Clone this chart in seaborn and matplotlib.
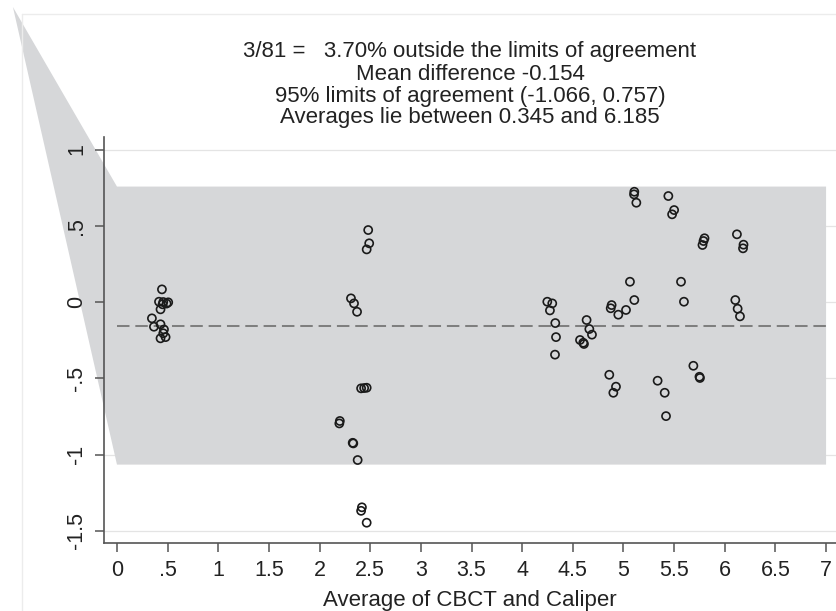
import matplotlib
matplotlib.use('Agg')
import matplotlib.pyplot as plt
import seaborn as sns
import pandas as pd
import numpy as np
from matplotlib.patches import Polygon
from matplotlib.lines import Line2D

# moyennes (CBCT + Caliper)/2 et differences
average = [0.444, 0.415, 0.457, 0.506, 0.45, 0.43, 0.49, 0.345, 0.365, 0.43,
           0.464, 0.457, 0.43, 0.48,
           2.48, 2.49, 2.465, 2.31, 2.34, 2.37, 2.41, 2.44, 2.465, 2.20,
           2.195, 2.327, 2.333, 2.376, 2.418, 2.41, 2.465,
           4.248, 4.297, 4.274, 4.327, 4.334, 4.324,
           4.636, 4.663, 4.689, 4.571, 4.61, 4.603,
           5.107, 5.104, 5.127, 5.443, 5.50, 5.48, 5.80, 5.79, 5.78,
           6.12, 6.185, 6.18, 5.064, 5.107,
           4.883, 4.874, 4.949, 5.025, 5.568, 5.597,
           6.104, 6.127, 6.15, 4.86, 4.926, 4.9,
           5.337, 5.407, 5.69, 5.75, 5.755, 5.42]
difference = [0.083, 0.002, 0.0, -0.002, -0.015, -0.048, -0.01, -0.107, -0.162, -0.146,
              -0.18, -0.205, -0.238, -0.23,
              0.472, 0.385, 0.345, 0.024, -0.009, -0.064, -0.566, -0.564, -0.562, -0.78,
              -0.796, -0.923, -0.927, -1.036, -1.346, -1.369, -1.447,
              0.002, -0.009, -0.055, -0.138, -0.23, -0.345,
              -0.118, -0.177, -0.214, -0.249, -0.275, -0.267,
              0.723, 0.706, 0.651, 0.695, 0.603, 0.575, 0.418, 0.40, 0.374,
              0.444, 0.376, 0.352, 0.133, 0.013,
              -0.02, -0.041, -0.083, -0.052, 0.133, 0.002,
              0.013, -0.044, -0.094, -0.477, -0.555, -0.595,
              -0.516, -0.595, -0.418, -0.49, -0.498, -0.748]

mean_diff = -0.154
loa_low = -1.066
loa_high = 0.757
band_x = [0, 7]
wedge_corner = (-1.027, 1.934)

title_lines = ["3/81 =   3.70% outside the limits of agreement",
               "Mean difference -0.154",
               "95% limits of agreement (-1.066, 0.757)",
               "Averages lie between 0.345 and 6.185"]

xticks = [0, 0.5, 1, 1.5, 2, 2.5, 3, 3.5, 4, 4.5, 5, 5.5, 6, 6.5, 7]
xtick_labels = ['0', '.5', '1', '1.5', '2', '2.5', '3', '3.5', '4', '4.5',
                '5', '5.5', '6', '6.5', '7']
yticks = [-1.5, -1, -0.5, 0, 0.5, 1]
ytick_labels = ['-1.5', '-1', '-.5', '0', '.5', '1']

df = pd.DataFrame({'avg': average, 'diff': difference})

sns.set_style('white')
plt.rcParams['font.family'] = ['Liberation Sans', 'DejaVu Sans']

W, H = 836, 611
fig = plt.figure(figsize=(W / 100, H / 100), dpi=100)
ax = fig.add_axes([104 / W, 1 - 543 / H, 732 / W, 406 / H])
ax.set_axisbelow(False)

# cadre exterieur tres pale
fig.add_artist(Line2D([22 / W, 22 / W], [0, 1 - 14 / H], color='#ececec', lw=1))
fig.add_artist(Line2D([22 / W, 1], [1 - 14 / H, 1 - 14 / H], color='#ececec', lw=1))

# grille horizontale
for yt in yticks:
    ax.axhline(yt, color='#e4e4e4', lw=0.9, zorder=0.5)

# zone des limites d'accord (avec le coin qui deborde)
band = Polygon([wedge_corner, (band_x[0], loa_high), (band_x[1], loa_high),
                (band_x[1], loa_low), (band_x[0], loa_low)],
               closed=True, facecolor='#d6d7d9', edgecolor='none',
               zorder=1, clip_on=False)
ax.add_patch(band)

ax.plot(band_x, [mean_diff, mean_diff], color='#7f7f7f', lw=1.45,
        dashes=(6.2, 2.9), zorder=2)

sns.scatterplot(data=df, x='avg', y='diff', ax=ax, s=34, marker='o',
                facecolor='none', edgecolor='#1a1a1a', linewidth=1.2, zorder=3)

ax.set_xlim(-0.128, 7.098)
ax.set_ylim(-1.580, 1.082)

ax.set_xticks(xticks)
ax.set_xticklabels(xtick_labels, fontsize=15.5, color='#222222')
ax.set_yticks(yticks)
ax.set_yticklabels(ytick_labels, fontsize=15.5, color='#222222',
                   rotation=90, va='center')
ax.tick_params(axis='both', direction='out', length=6.5, width=1.1,
               color='#555555', bottom=True, left=True)
ax.tick_params(axis='x', pad=6)
ax.tick_params(axis='y', pad=5.5)

ax.set_xlabel('Average of CBCT and Caliper', fontsize=16, color='#222222',
              labelpad=6)
ax.set_ylabel('')

for side in ['top', 'right']:
    ax.spines[side].set_visible(False)
for side in ['left', 'bottom']:
    ax.spines[side].set_color('#555555')
    ax.spines[side].set_linewidth(1.2)

ax.set_facecolor('white')

for i, line in enumerate(title_lines):
    fig.text(470 / W, 1 - (57.5 + 22 * i) / H, line, fontsize=16,
             ha='center', va='baseline', color='#222222')

fig.savefig('out.png', dpi=100)
